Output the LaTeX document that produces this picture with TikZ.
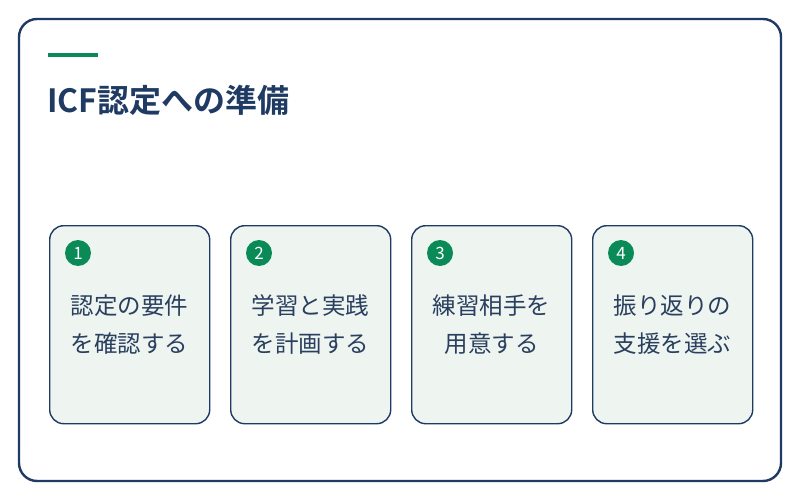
\documentclass[tikz,border=0pt]{standalone}
\usepackage{fontspec}
\setmainfont{Noto Sans CJK JP}
\newfontfamily\jpb{Noto Sans CJK JP Bold}
\definecolor{navy}{HTML}{1F3A63}
\definecolor{txt}{HTML}{2A3F5F}
\definecolor{grn}{HTML}{0A8A57}
\definecolor{boxfill}{HTML}{EEF5F0}
\tikzset{
  frame/.style={draw=navy,line width=2.4pt,rounded corners=18pt,fill=white},
  stepbox/.style={draw=navy,line width=1.4pt,rounded corners=14pt,fill=boxfill,minimum width=160pt,minimum height=198pt,inner sep=0pt},
  numdot/.style={circle,fill=grn,minimum size=26pt,inner sep=0pt,text=white,font=\fontsize{17}{17}\selectfont},
  steptext/.style={text=txt,align=center,font=\fontsize{23.5}{38}\selectfont},
}
\begin{document}
\begin{tikzpicture}[x=1pt,y=-1pt]
\useasboundingbox (0,0) rectangle (800,500);
\draw[frame] (19,19) rectangle (781,481);
\fill[grn] (48,53) rectangle (98,57.5);
\node[anchor=base west,inner sep=0pt,text=navy,font=\jpb\fontsize{32}{32}\selectfont] (title) at (47,113) {ICF認定への準備};
\foreach \i/\x/\a/\b in {1/49/認定の要件/を確認する,2/230/学習と実践/を計画する,3/411/練習相手を/用意する,4/592/振り返りの/支援を選ぶ}{
  \node[stepbox,anchor=north west] (box\i) at (\x,225) {};
  \node[numdot] (num\i) at ([xshift=29pt,yshift=-28pt]box\i.north west) {\i};
  \node[steptext] (t\i) at ([yshift=-100pt]box\i.north) {\a\\\b};
}
\end{tikzpicture}
\end{document}
